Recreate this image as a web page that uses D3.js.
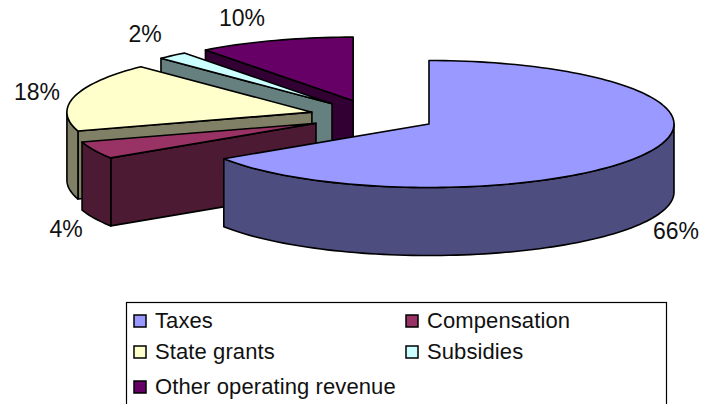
<!DOCTYPE html>
<html lang="en">
<head>
    <meta charset="UTF-8">
    <title>Revenue pie</title>
    <script src="https://d3js.org/d3.v7.min.js"></script>
    <style>
        body { margin: 0; background: #fff; }
        svg { display: block; }
        text { font-family: "Liberation Sans", Arial, sans-serif; fill: #111; }
    </style>
</head>
<body>
    <div id="chart"></div>

    <script>
        const categories = ["Taxes", "Compensation", "State grants", "Subsidies", "Other operating revenue"];
        const values = [65.8, 4.4, 17.5, 2.0, 10.3];
        const topColors = ["#9999ff", "#993366", "#ffffcc", "#ccffff", "#660066"];
        const sideColors = ["#4d4d80", "#4d1a33", "#808066", "#668080", "#330033"];

        const width = 701, height = 404;
        const cx = 373.3, cy = 116.2;    // centre before the slices are pulled out
        const rx = 245, ry = 63.5;       // flattened pie
        const depth = 68;
        const explode = 0.2585;

        const svg = d3.select("#chart").append("svg")
            .attr("width", width)
            .attr("height", height);

        const slices = d3.pie().sort(null).value(d => d)(values);

        // angle is clockwise from 12 o'clock, like d3.pie gives it
        const px = (a, r) => Math.sin(a) * rx * r;
        const py = (a, r) => -Math.cos(a) * ry * r;

        function arcPoints(s, a0, a1) {
            const n = Math.max(2, Math.ceil((a1 - a0) / 0.03));
            return d3.range(n + 1).map(i => {
                const a = a0 + (a1 - a0) * i / n;
                return [s.x + px(a, 1), s.y + py(a, 1)];
            });
        }

        slices.forEach(s => {
            const mid = (s.startAngle + s.endAngle) / 2;
            s.x = cx + px(mid, explode);
            s.y = cy + py(mid, explode);
        });

        const line = d3.line();
        const down = p => [p[0], p[1] + depth];
        const pieG = svg.append("g")
            .attr("stroke", "#000")
            .attr("stroke-width", 1.6)
            .attr("stroke-linejoin", "round");

        // paint back to front so the big slice ends up on top
        const order = [4, 3, 2, 1, 0];
        order.forEach(i => {
            const s = slices[i];
            const apex = [s.x, s.y];
            const start = [s.x + px(s.startAngle, 1), s.y + py(s.startAngle, 1)];

            // cut face on the start side
            if (i !== 0) {
                pieG.append("path")
                    .attr("fill", sideColors[i])
                    .attr("d", line([start, apex, down(apex), down(start)]) + "Z");
            }

            // outer wall, only the part facing the viewer (90deg to 270deg)
            const a0 = Math.max(s.startAngle, Math.PI / 2);
            const a1 = Math.min(s.endAngle, Math.PI * 1.5);
            if (a1 > a0) {
                const rim = arcPoints(s, a0, a1);
                pieG.append("path")
                    .attr("fill", sideColors[i])
                    .attr("d", line(rim.concat(rim.slice().reverse().map(down))) + "Z");
            }

            // top
            pieG.append("path")
                .attr("fill", topColors[i])
                .attr("d", line([apex].concat(arcPoints(s, s.startAngle, s.endAngle))) + "Z");
        });

        // percent labels
        const labelAt = [[676, 239], [66, 237], [37, 100], [145, 42], [242, 26]];
        svg.append("g").selectAll("text")
            .data(values)
            .enter().append("text")
            .attr("x", (d, i) => labelAt[i][0])
            .attr("y", (d, i) => labelAt[i][1])
            .attr("text-anchor", "middle")
            .attr("font-size", 23)
            .text(d => Math.round(d) + "%");

        // legend, bottom runs off the picture
        const legend = svg.append("g");
        legend.append("rect")
            .attr("x", 126.5).attr("y", 302.5)
            .attr("width", 540).attr("height", 140)
            .attr("fill", "#fff")
            .attr("stroke", "#000")
            .attr("stroke-width", 1.2);

        const col = d3.scaleOrdinal().domain([0, 1]).range([134, 406]);
        const row = d3.scaleOrdinal().domain([0, 1, 2]).range([321, 352, 387]);

        categories.forEach((name, i) => {
            const x = col(i % 2), y = row(Math.floor(i / 2));
            legend.append("rect")
                .attr("x", x).attr("y", y - 6)
                .attr("width", 12).attr("height", 12)
                .attr("fill", topColors[i])
                .attr("stroke", "#000")
                .attr("stroke-width", 1.5);
            legend.append("text")
                .attr("x", x + 21).attr("y", y + 6.5)
                .attr("font-size", 22)
                .attr("letter-spacing", 0.1)
                .text(name);
        });
    </script>
</body>
</html>
